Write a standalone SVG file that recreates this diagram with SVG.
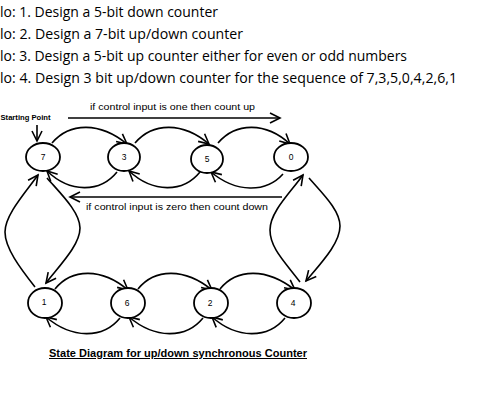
<svg xmlns="http://www.w3.org/2000/svg" width="483" height="410" viewBox="0 0 483 410">
<style>
.hdr{font-family:"Open Sans","Noto Sans",sans-serif;font-size:14px;fill:#000}
.lbl{font-family:"Liberation Sans",Arial,sans-serif;font-size:9px;fill:#000}
.num{font-family:"Liberation Sans",Arial,sans-serif;font-size:8.5px;fill:#000;text-anchor:middle}
.st{font-family:"Liberation Sans",Arial,sans-serif;font-size:7px;font-weight:bold;fill:#000}
.ttl{font-family:"Liberation Sans",Arial,sans-serif;font-size:10px;font-weight:bold;fill:#000;text-decoration:underline}
.node ellipse{fill:#fff;stroke:#000;stroke-width:1.8}
.conn path{fill:none;stroke:#000;stroke-width:1.6;marker-end:url(#arr)}
</style>
<defs>
<marker id="arr" markerUnits="userSpaceOnUse" markerWidth="12" markerHeight="12" refX="10" refY="5" orient="auto" overflow="visible">
<path d="M0,0 L10,5 L0,10" fill="none" stroke="#000" stroke-width="1.6"/>
</marker>
</defs>
<rect width="483" height="410" fill="#fff"/>
<g id="header">
<text class="hdr" x="0" y="17" textLength="218" lengthAdjust="spacingAndGlyphs">lo: 1. Design a 5-bit down counter</text>
<text class="hdr" x="0" y="39" textLength="243" lengthAdjust="spacingAndGlyphs">lo: 2. Design a 7-bit up/down counter</text>
<text class="hdr" x="0" y="61" textLength="407" lengthAdjust="spacingAndGlyphs">lo: 3. Design a 5-bit up counter either for even or odd numbers</text>
<text class="hdr" x="0" y="83" textLength="457" lengthAdjust="spacingAndGlyphs">lo: 4. Design 3 bit up/down counter for the sequence of 7,3,5,0,4,2,6,1</text>
</g>
<g id="labels">
<text class="lbl" x="90" y="110" textLength="165" lengthAdjust="spacingAndGlyphs">if control input is one then count up</text>
<text class="lbl" x="86" y="210" textLength="182" lengthAdjust="spacingAndGlyphs">if control input is zero then count down</text>
<text class="st" x="0.5" y="120" textLength="50" lengthAdjust="spacingAndGlyphs">Starting Point</text>
<text class="ttl" x="49" y="357" textLength="258" lengthAdjust="spacingAndGlyphs">State Diagram for up/down synchronous Counter</text>
</g>
<g id="connectors" class="conn">
<path d="M68,118 L280,118"/>
<path d="M282,197 L70,197"/>
<path d="M37,125 L37,141"/>
<path d="M52,143 C70,122 100,122 127,144"/>
<path d="M135,143 C153,122 183,122 209,144"/>
<path d="M218,143 C236,122 266,122 290,144"/>
<path d="M117,172 C100,193 70,193 47,171"/>
<path d="M200,172 C183,193 153,193 129,171"/>
<path d="M283,174 C266,193 236,193 211,172"/>
<path d="M55,289 C72,268 102,268 128,290"/>
<path d="M138,289 C155,268 185,268 212,290"/>
<path d="M220,289 C237,268 267,268 295,290"/>
<path d="M120,318 C103,339 72,339 46,317"/>
<path d="M203,318 C186,339 155,339 129,317"/>
<path d="M285,318 C268,339 237,339 212,317"/>
<path d="M35,287 C20,268 5,248 5,232 C5,215 25,193 38,175"/>
<path d="M47,178 C60,193 80,212 80,228 C80,245 60,265 46,283"/>
<path d="M300,282 C285,262 270,248 270,230 C270,212 290,193 303,175"/>
<path d="M309,178 C322,193 340,210 340,226 C340,243 322,262 306,281"/>
</g>
<g id="n7" class="node"><ellipse cx="43" cy="157" rx="17" ry="14"/><text class="num" x="43" y="160">7</text></g>
<g id="n3" class="node"><ellipse cx="124" cy="157" rx="16" ry="14"/><text class="num" x="124" y="160">3</text></g>
<g id="n5" class="node"><ellipse cx="207" cy="159" rx="16" ry="14"/><text class="num" x="207" y="162">5</text></g>
<g id="n0" class="node"><ellipse cx="291" cy="157" rx="17" ry="14"/><text class="num" x="291" y="160">0</text></g>
<g id="n1" class="node"><ellipse cx="45" cy="303" rx="17" ry="15"/><text class="num" x="44" y="305">1</text></g>
<g id="n6" class="node"><ellipse cx="128" cy="303" rx="17" ry="15"/><text class="num" x="127" y="306">6</text></g>
<g id="n2" class="node"><ellipse cx="211" cy="303" rx="17" ry="15"/><text class="num" x="210" y="306">2</text></g>
<g id="n4" class="node"><ellipse cx="294" cy="303" rx="17" ry="15"/><text class="num" x="293" y="306">4</text></g>
</svg>
